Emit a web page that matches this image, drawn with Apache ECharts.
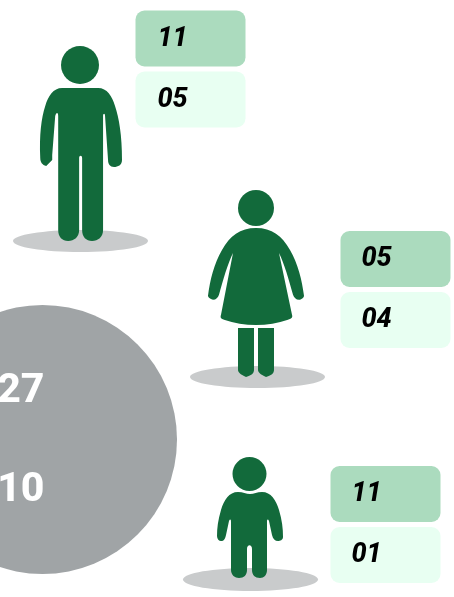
<!DOCTYPE html>
<html>
<head>
<meta charset="utf-8">
<style>
  html, body { margin: 0; padding: 0; background: #fff; }
  #chart { width: 454px; height: 597px; }
</style>
<script src="https://cdn.jsdelivr.net/npm/echarts@6/dist/echarts.min.js"></script>
</head>
<body>
<div id="chart"></div>
<script>
// values
const people = ['man', 'woman', 'boy'];
const darkValues = ['11', '05', '11'];
const lightValues = ['05', '04', '01'];
const circleValues = ['27', '10'];

const GREEN = '#126a3b';
const SHADOW = '#c9cbcc';
const BOX_DARK = '#abdbbe';
const BOX_LIGHT = '#e8fff2';
const GREY = '#a0a4a6';

// where each figure sits on the page
const layout = {
  man: {
    head: [80, 65, 19], shadow: [80.5, 241, 67.5, 11], box: [135.5, 10.5], textX: 157.5,
    paths: ['M62 88L98 88C107 88 112 96 115 106C119 118 122 135 122 160C122 165 118 167 114 167C110 167 108 164 108 160L105 116C105 113 103 113 103 116L103 230C103 237 98 241 92 241C86 241 82 237 82 230L82 158C82 155 79 155 79 158L79 230C79 237 74 241 68 241C62 241 58 237 58 230L58 116C58 112 56 112 55 116L52 155L52 160L46 166C42 165 40 162 40 158C39 135 41 118 45 106C48 96 53 88 62 88Z'],
    rects: [[40, 88, 82, 153]]
  },
  woman: {
    head: [256, 208, 18], shadow: [257.5, 377, 67.5, 11], box: [340.5, 231], textX: 361.5,
    paths: [
      'M256 228C272 228 282 236 290 250C298 264 302 280 304 296C304 298 301 300 299 300C296 300 294 298 293 295C289 280 284 263 279 253L292 315C293 318 291 319 288 320C268 327 244 327 224 320C221 319 220 318 221 315L233 253C228 263 223 280 219 295C218 298 216 300 213 300C210 299 208 298 208 296C210 280 214 264 222 250C230 236 240 228 256 228Z',
      'M238 328L254 328L254 370C254 373 252 375 246 377C242 375 238 373 238 370Z',
      'M258 328L274 328L274 370C274 373 272 375 266 377C262 375 258 373 258 370Z'
    ],
    rects: [[208, 228, 96, 97], [238, 328, 16, 49], [258, 328, 16, 49]]
  },
  boy: {
    head: [249.5, 474, 17], shadow: [250.5, 579.5, 67.5, 11.5], box: [330.5, 466], textX: 351.5,
    paths: ['M238 492C243 492 246 494 250 494C254 494 257 492 262 492C271 492 276 500 279 510C282 520 283 528 283 537C283 540 280 541 278 541C275 541 273 539 272 535L269 521C268 519 267 519 267 522L267 570C267 575 264 578 260 578C255 578 252 575 252 570L252 549C252 544 247 544 247 549L247 570C247 575 244 578 239 578C235 578 231 575 231 570L231 522C231 519 230 519 229 521L226 535C225 539 224 541 221 541C219 541 217 539 217 536C217 528 218 520 221 510C224 500 229 492 238 492Z'],
    rects: [[217, 492, 66, 86]]
  }
};
const circle = { cx: 42.5, cy: 439.5, r: 134.5, textRight: 44.5, textY: [391.5, 490.5] };
const boxW = 110, boxH = 56, boxGap = 61;

function renderPerson(params) {
  const name = people[params.dataIndex];
  const p = layout[name];
  const children = [
    { type: 'ellipse', shape: { cx: p.shadow[0], cy: p.shadow[1], rx: p.shadow[2], ry: p.shadow[3] }, style: { fill: SHADOW } },
    { type: 'circle', shape: { cx: p.head[0], cy: p.head[1], r: p.head[2] }, style: { fill: GREEN } }
  ];
  p.paths.forEach((d, i) => {
    const r = p.rects[i];
    children.push({
      type: 'path',
      shape: { pathData: d, layout: 'cover', x: r[0], y: r[1], width: r[2], height: r[3] },
      style: { fill: GREEN }
    });
  });
  [[darkValues, BOX_DARK], [lightValues, BOX_LIGHT]].forEach((row, i) => {
    const y = p.box[1] + i * boxGap;
    children.push({
      type: 'rect',
      shape: { x: p.box[0], y: y, width: boxW, height: boxH, r: 9 },
      style: { fill: row[1] }
    });
    children.push({
      type: 'text',
      style: {
        text: row[0][params.dataIndex],
        x: p.textX, y: y + boxH / 2 + 0.5,
        fill: '#000',
        font: 'italic 800 27px Roboto',
        align: 'left', verticalAlign: 'middle'
      }
    });
  });
  return { type: 'group', children: children };
}

const chart = echarts.init(document.getElementById('chart'), null, { renderer: 'canvas' });
chart.setOption({
  animation: false,
  backgroundColor: '#fff',
  graphic: {
    elements: [
      { type: 'circle', shape: { cx: circle.cx, cy: circle.cy, r: circle.r }, style: { fill: GREY } }
    ].concat(circleValues.map((v, i) => ({
      type: 'text',
      style: {
        text: v,
        x: circle.textRight, y: circle.textY[i],
        fill: '#fff',
        font: '800 41px Roboto',
        align: 'right', verticalAlign: 'middle'
      }
    })))
  },
  series: [{
    type: 'custom',
    coordinateSystem: 'none',
    silent: true,
    data: people.map((name, i) => i),
    renderItem: renderPerson
  }]
});
</script>
</body>
</html>
